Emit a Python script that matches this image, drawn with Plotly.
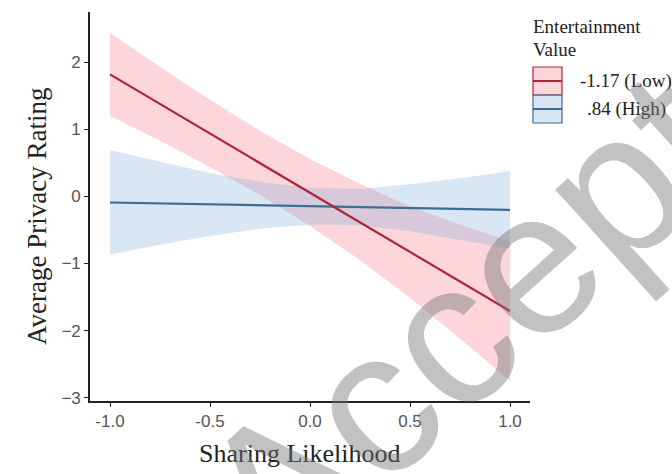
import plotly.graph_objects as go

# Simple-slopes of privacy rating on sharing likelihood at two levels of entertainment value
x_grid = [-1.0, -0.75, -0.5, -0.25, 0.0, 0.25, 0.5, 0.75, 1.0]

low_fit = [1.82, 1.38, 0.94, 0.50, 0.06, -0.38, -0.83, -1.27, -1.71]
low_upper = [2.44, 1.93, 1.44, 0.98, 0.56, 0.19, -0.15, -0.42, -0.67]
low_lower = [1.20, 0.83, 0.44, 0.02, -0.44, -0.95, -1.51, -2.12, -2.75]

high_fit = [-0.09, -0.104, -0.118, -0.131, -0.145, -0.159, -0.172, -0.186, -0.20]
high_upper = [0.69, 0.52, 0.35, 0.22, 0.13, 0.11, 0.18, 0.27, 0.38]
high_lower = [-0.87, -0.72, -0.59, -0.48, -0.42, -0.43, -0.52, -0.65, -0.78]

legend_title = ["Entertainment", "Value"]
legend_labels = ["-1.17 (Low)", ".84 (High)"]

x_ticks = [-1.0, -0.5, 0.0, 0.5, 1.0]
x_ticklabels = ["-1.0", "-0.5", "0.0", "0.5", "1.0"]
y_ticks = [-3, -2, -1, 0, 1, 2]

RED = "#AE2439"
BLUE = "#3D6D95"
RED_FILL = "rgba(246,120,135,0.30)"
BLUE_FILL = "rgba(120,170,215,0.28)"

SERIF = "Liberation Serif, Times New Roman, serif"
SANS = "Liberation Sans, Arial, sans-serif"

fig = go.Figure()


def add_band(upper, lower, fill):
    fig.add_trace(go.Scatter(x=x_grid, y=upper, mode="lines", line=dict(width=0),
                             showlegend=False, hoverinfo="skip"))
    fig.add_trace(go.Scatter(x=x_grid, y=lower, mode="lines", line=dict(width=0),
                             fill="tonexty", fillcolor=fill,
                             showlegend=False, hoverinfo="skip"))


add_band(low_upper, low_lower, RED_FILL)
add_band(high_upper, high_lower, BLUE_FILL)

fig.add_trace(go.Scatter(x=x_grid, y=high_fit, mode="lines",
                         line=dict(color=BLUE, width=2.2),
                         name=legend_labels[1], showlegend=False))
fig.add_trace(go.Scatter(x=x_grid, y=low_fit, mode="lines",
                         line=dict(color=RED, width=2.2),
                         name=legend_labels[0], showlegend=False))

# Plot area in pixels: x 90..530, y 12..401
W, H = 672, 474
L, R, T, B = 90, 530, 12, 401


def px(xp):
    return (xp - L) / (R - L)


def py(yp):
    return (B - yp) / (B - T)


shapes = []
annotations = []

# Hand-drawn legend keys
keys = [(67, 95, RED_FILL, RED), (95, 123, BLUE_FILL, BLUE)]
for (y0, y1, fill, col) in keys:
    shapes.append(dict(type="rect", xref="paper", yref="paper",
                       x0=px(533), x1=px(562), y0=py(y1), y1=py(y0),
                       fillcolor=fill, line=dict(color=col, width=1.2)))
    ym = (y0 + y1) / 2
    shapes.append(dict(type="line", xref="paper", yref="paper",
                       x0=px(533), x1=px(562), y0=py(ym), y1=py(ym),
                       line=dict(color=col, width=2)))

annotations.append(dict(text=legend_title[0], xref="paper", yref="paper",
                        x=px(531), y=py(26), xanchor="left", yanchor="middle",
                        showarrow=False, font=dict(family=SERIF, size=19, color="#222")))
annotations.append(dict(text=legend_title[1], xref="paper", yref="paper",
                        x=px(531), y=py(49), xanchor="left", yanchor="middle",
                        showarrow=False, font=dict(family=SERIF, size=19, color="#222")))
annotations.append(dict(text=legend_labels[0], xref="paper", yref="paper",
                        x=px(578), y=py(81), xanchor="left", yanchor="middle",
                        showarrow=False, font=dict(family=SERIF, size=19, color="#222")))
annotations.append(dict(text=legend_labels[1], xref="paper", yref="paper",
                        x=px(585), y=py(109), xanchor="left", yanchor="middle",
                        showarrow=False, font=dict(family=SERIF, size=19, color="#222")))

# Axis titles
annotations.append(dict(text="Sharing Likelihood", xref="paper", yref="paper",
                        x=px(299), y=py(453), xanchor="center", yanchor="middle",
                        showarrow=False, font=dict(family=SERIF, size=26, color="#222")))
annotations.append(dict(text="Average Privacy Rating", xref="paper", yref="paper",
                        x=px(37), y=py(217), xanchor="center", yanchor="middle",
                        textangle=-90,
                        showarrow=False, font=dict(family=SERIF, size=27, color="#222")))

# Diagonal watermark
annotations.append(dict(text="Accepted", xref="paper", yref="paper",
                        x=px(548), y=py(245), xanchor="center", yanchor="middle",
                        textangle=-42, showarrow=False,
                        font=dict(family=SANS, size=205, color="rgba(120,120,120,0.45)")))

fig.update_layout(
    width=W, height=H,
    margin=dict(l=L, r=W - R, t=T, b=H - B, pad=0),
    paper_bgcolor="white", plot_bgcolor="white",
    showlegend=False,
    shapes=shapes, annotations=annotations,
    xaxis=dict(range=[-1.1, 1.1], tickvals=x_ticks, ticktext=x_ticklabels,
               showgrid=False, zeroline=False, showline=True, linecolor="#222",
               linewidth=1.6, ticks="outside", ticklen=4, tickcolor="#222",
               tickfont=dict(family=SANS, size=17, color="#555")),
    yaxis=dict(range=[-3.05, 2.75], tickvals=y_ticks,
               showgrid=False, zeroline=False, showline=True, linecolor="#222",
               linewidth=1.6, ticks="outside", ticklen=4, tickcolor="#222",
               tickfont=dict(family=SANS, size=17, color="#555")),
)

fig.write_html("out.html")
